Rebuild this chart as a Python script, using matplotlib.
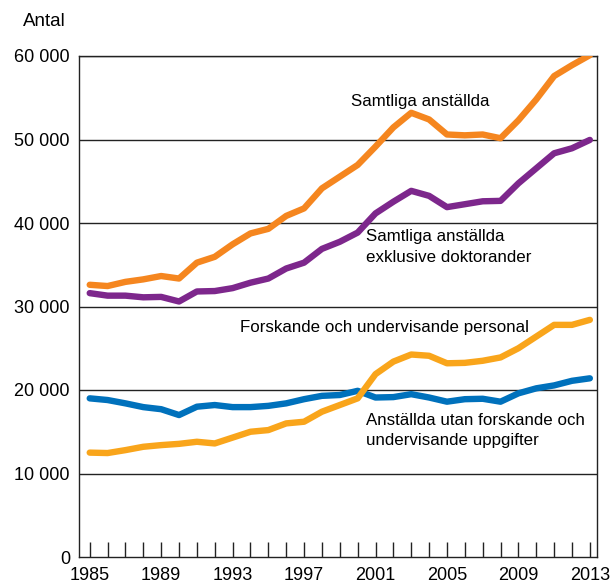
import matplotlib
matplotlib.use("Agg")
import matplotlib.pyplot as plt
from matplotlib.ticker import FixedLocator, FuncFormatter

years = list(range(1985, 2014))

samtliga = [32600, 32450, 32950, 33250, 33650, 33350, 35250, 35950, 37450, 38750,
            39300, 40850, 41750, 44150, 45550, 46950, 49150, 51450, 53200, 52400,
            50600, 50500, 50600, 50150, 52300, 54800, 57600, 58900, 60100]
exkl_doktorander = [31600, 31300, 31300, 31100, 31150, 30600, 31800, 31850, 32200, 32850,
                    33350, 34550, 35250, 36900, 37750, 38850, 41150, 42550, 43850, 43250,
                    41900, 42250, 42600, 42650, 44750, 46550, 48350, 48950, 49950]
forskande = [12500, 12450, 12800, 13200, 13400, 13550, 13800, 13600, 14300, 15000,
             15200, 16000, 16200, 17400, 18200, 19000, 21900, 23400, 24250, 24100,
             23200, 23250, 23500, 23900, 25000, 26400, 27800, 27800, 28400]
utan_forskande = [19000, 18800, 18400, 17950, 17700, 17000, 18000, 18200, 17950, 17950,
                  18100, 18400, 18900, 19300, 19400, 19900, 19100, 19150, 19500, 19100,
                  18600, 18900, 18950, 18600, 19600, 20200, 20550, 21100, 21400]

xtick_labels = [1985, 1989, 1993, 1997, 2001, 2005, 2009, 2013]
yticks = [0, 10000, 20000, 30000, 40000, 50000, 60000]

plt.rcParams['font.family'] = ['Liberation Sans', 'DejaVu Sans']

fig = plt.figure(figsize=(6.10, 5.86), dpi=100)
ax = fig.add_axes([79/610, 29/586, (597-79)/610, (557-56)/586])

for y in yticks[1:]:
    ax.axhline(y, color='#222222', lw=1.0, zorder=1)

lw = 4.6
ax.plot(years, utan_forskande, color='#0071BC', lw=lw, solid_capstyle='round', solid_joinstyle='round', zorder=3)
ax.plot(years, forskande, color='#F9A51B', lw=lw, solid_capstyle='round', solid_joinstyle='round', zorder=4)
ax.plot(years, exkl_doktorander, color='#7D278C', lw=lw, solid_capstyle='round', solid_joinstyle='round', zorder=3)
ax.plot(years, samtliga, color='#F5861F', lw=lw, solid_capstyle='round', solid_joinstyle='round', zorder=3)

ax.set_xlim(1984.4, 2013.4)
ax.set_ylim(0, 60000)

ax.set_xticks(years)
ax.set_xticklabels([str(y) if y in xtick_labels else '' for y in years])
ax.tick_params(axis='x', direction='in', length=11, width=1.0, color='#222222',
               labelsize=13, pad=7)
ax.set_yticks(yticks)
ax.yaxis.set_major_formatter(FuncFormatter(lambda v, p: f"{int(v):,}".replace(",", " ")))
ax.tick_params(axis='y', length=0, labelsize=13, pad=6.5)

for s in ax.spines.values():
    s.set_color('#222222')
    s.set_linewidth(1.0)

fig.text(23/610, 1 - 21/586, 'Antal', fontsize=13.5, va='center', ha='left')

fs = 12.2
ax.text(1999.64, 54600, 'Samtliga anställda', fontsize=fs, va='center', ha='left')
ax.text(2000.47, 37130, 'Samtliga anställda\nexklusive doktorander', fontsize=fs,
        va='center', ha='left', linespacing=1.45)
ax.text(1993.4, 27540, 'Forskande och undervisande personal', fontsize=fs, va='center', ha='left')
ax.text(2000.47, 15150, 'Anställda utan forskande och\nundervisande uppgifter', fontsize=fs,
        va='center', ha='left', linespacing=1.45)

fig.savefig('out.png', dpi=100)
